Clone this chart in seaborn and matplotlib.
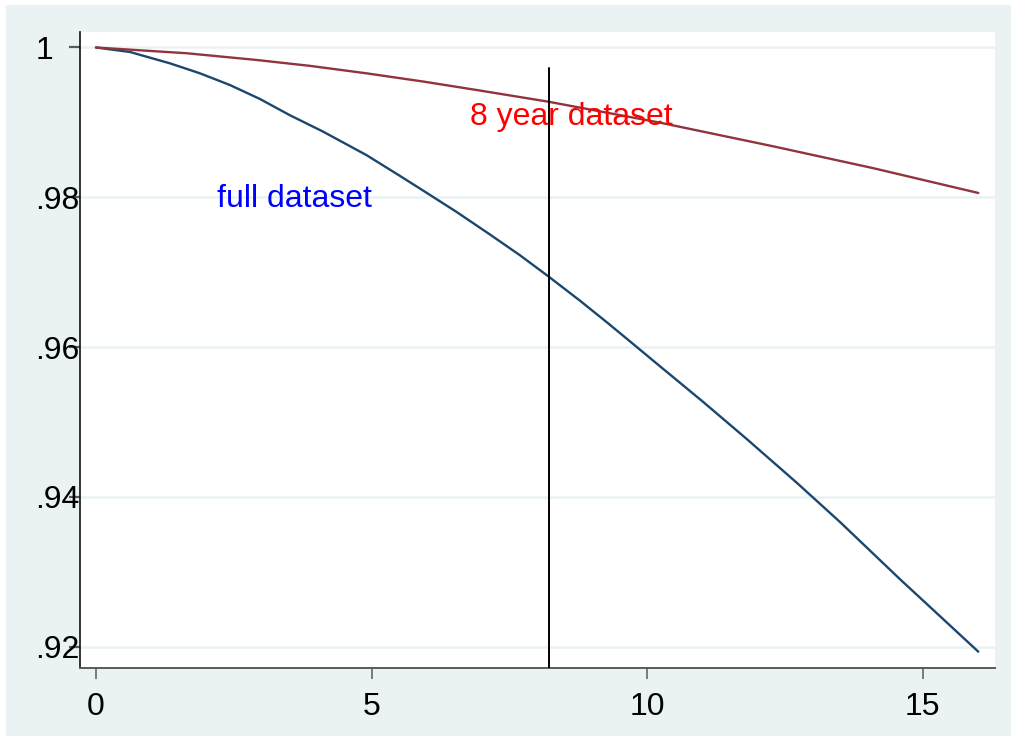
import matplotlib
matplotlib.use("Agg")
import matplotlib.pyplot as plt
from matplotlib.patches import Rectangle
import seaborn as sns
import pandas as pd

# Predicted survival by follow-up time
full_t = [0, 0.617, 1.34, 1.887, 2.43, 2.976, 3.52, 4.125, 4.91, 5.516, 5.93,
          6.545, 7.15, 7.694, 8.22, 8.78, 9.27, 9.69, 10.23, 11.02, 11.81,
          12.71, 13.50, 14.59, 15.25, 16.01]
full_s = [1.0, 0.99940, 0.99789, 0.99655, 0.99499, 0.99312, 0.99095, 0.98875,
          0.98562, 0.98285, 0.98092, 0.97803, 0.97502, 0.97225, 0.96937,
          0.96620, 0.96330, 0.96075, 0.95745, 0.95265, 0.94770, 0.94191,
          0.93663, 0.92898, 0.92449, 0.91931]

eight_t = [0, 1.65, 2.92, 3.88, 4.91, 5.94, 6.91, 8.21, 10.23, 12.29, 14.10,
           16.01]
eight_s = [1.0, 0.99923, 0.99833, 0.99755, 0.99655, 0.99545, 0.99432, 0.99276,
           0.98997, 0.98680, 0.98389, 0.98057]

cutoff_x = 8.22
cutoff_top = 0.99725

x_ticks = [0, 5, 10, 15]
y_ticks = [1.0, 0.98, 0.96, 0.94, 0.92]
y_tick_labels = ["1", ".98", ".96", ".94", ".92"]

full_label = "full dataset"
eight_label = "8 year dataset"

sns.set_style("white")
plt.rcParams["font.family"] = ["Liberation Sans", "DejaVu Sans"]

W, H = 1011, 738
fig = plt.figure(figsize=(W / 100, H / 100), dpi=100, facecolor="white")

# graph region background
bg = "#EAF2F3"
fig.patches.append(Rectangle((6 / W, (H - 736) / H), (W - 6) / W, (736 - 5) / H,
                             transform=fig.transFigure, facecolor=bg,
                             edgecolor="none", zorder=-10))

ax = fig.add_axes([80 / W, (H - 668) / H, (995 - 80) / W, (668 - 32) / H])
ax.set_zorder(5)
ax.set_facecolor("white")

df_full = pd.DataFrame({"t": full_t, "s": full_s})
df_eight = pd.DataFrame({"t": eight_t, "s": eight_s})

for yv in y_ticks:
    ax.axhline(yv, color=bg, lw=1.8, zorder=1)

sns.lineplot(data=df_full, x="t", y="s", ax=ax, color="#1a476f", lw=1.7,
             zorder=3, estimator=None, sort=False)
sns.lineplot(data=df_eight, x="t", y="s", ax=ax, color="#90353b", lw=1.7,
             zorder=3, estimator=None, sort=False)

ax.plot([cutoff_x, cutoff_x], [0.9, cutoff_top], color="black", lw=1.4,
        zorder=4, clip_on=True)

ax.text(6.786, 0.98965, eight_label, color="#ff0000", fontsize=23,
        ha="left", va="baseline", zorder=5)
ax.text(2.19, 0.97866, full_label, color="#0000ff", fontsize=23,
        ha="left", va="baseline", zorder=5)

ax.set_xlim(-0.290, 16.313)
ax.set_ylim(0.917129, 1.00207)

ax.set_xticks(x_ticks)
ax.set_xticklabels([str(v) for v in x_ticks])
ax.set_yticks(y_ticks)
ax.set_yticklabels(y_tick_labels)
ax.set_xlabel("")
ax.set_ylabel("")

for side in ["top", "right"]:
    ax.spines[side].set_visible(False)
ax.spines["left"].set_color("#111111")
ax.spines["left"].set_linewidth(1.2)
ax.spines["bottom"].set_color("#5a5a5a")
ax.spines["bottom"].set_linewidth(1.4)

ax.tick_params(axis="x", direction="out", length=7.6, width=1.1,
               color="#5a5a5a", pad=10, labelsize=23, labelcolor="black",
               bottom=True)
ax.tick_params(axis="y", direction="out", length=7.6, width=1.6,
               color="#5a5a5a", pad=24.5, labelsize=23, labelcolor="black",
               left=True)
for lab in ax.get_yticklabels():
    lab.set_horizontalalignment("left")

fig.savefig("out.png", dpi=100, facecolor="white")
